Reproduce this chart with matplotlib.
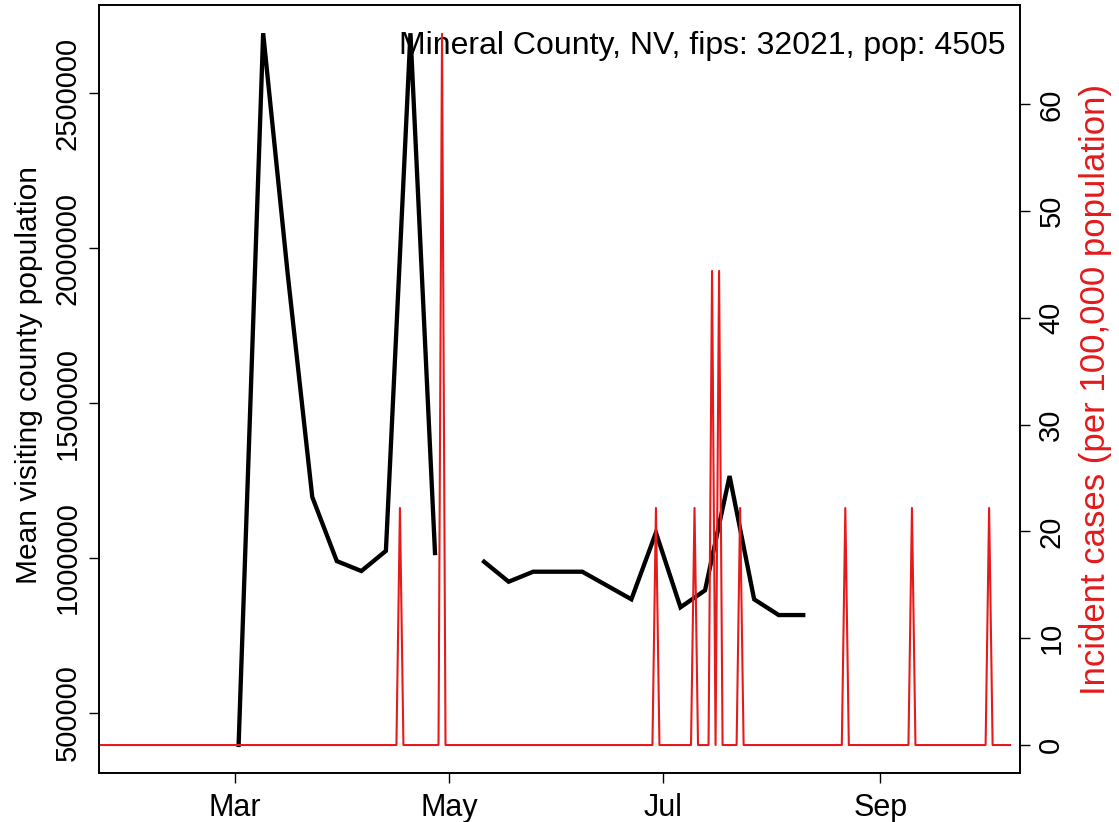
import datetime as dt

import matplotlib
matplotlib.use("Agg")
import matplotlib.pyplot as plt
import matplotlib.dates as mdates
import numpy as np

plt.rcParams["font.family"] = ["Liberation Sans", "DejaVu Sans"]

# weekly mean visiting-county population (NaN = missing week)
visit_dates = ["2020-03-02", "2020-03-09", "2020-03-16", "2020-03-23", "2020-03-30",
               "2020-04-06", "2020-04-13", "2020-04-20", "2020-04-27", "2020-05-04",
               "2020-05-11", "2020-05-18", "2020-05-25", "2020-06-01", "2020-06-08",
               "2020-06-15", "2020-06-22", "2020-06-29", "2020-07-06", "2020-07-13",
               "2020-07-20", "2020-07-27", "2020-08-03", "2020-08-10"]
visit_pop = [397000, 2693000, 1916000, 1197000, 990000,
             958000, 1023000, 2693000, 1016000, np.nan,
             988000, 923500, 955800, 955800, 955800,
             911300, 866800, 1082000, 841000, 895800,
             1264500, 866800, 816000, 816000]

# daily incident cases per 100,000 (all other days are zero)
case_start = "2020-01-21"
case_end = "2020-10-08"
spike_dates = ["2020-04-17", "2020-04-29", "2020-06-29", "2020-07-10", "2020-07-15",
               "2020-07-17", "2020-07-23", "2020-08-22", "2020-09-10", "2020-10-02"]
spike_rates = [22.2, 66.6, 22.2, 22.2, 44.4, 44.4, 22.2, 22.2, 22.2, 22.2]

title = "Mineral County, NV, fips: 32021, pop: 4505"
red = "#e41a1c"


def main():
    fig = plt.figure(figsize=(11.19, 8.22), dpi=100)
    ax = fig.add_axes([0.0885, 0.0596, 0.823, 0.9343])

    vx = np.array(visit_dates, dtype="datetime64[D]")
    ax.plot(vx, visit_pop, color="black", lw=3.1, solid_joinstyle="miter")
    ax.set_ylim(306452, 2783870)
    ax.set_yticks([500000, 1000000, 1500000, 2000000, 2500000])
    ax.set_yticklabels(["500000", "1000000", "1500000", "2000000", "2500000"],
                       rotation=90, va="center")
    ax.set_ylabel("Mean visiting county population", fontsize=21.5)
    ax.yaxis.set_label_coords(-0.061, 0.518)

    base = mdates.date2num(dt.datetime(2020, 3, 1))
    ax.set_xlim(base - 38.8, base + 223.8)
    ax.set_xticks([mdates.date2num(dt.datetime(2020, m, 1)) for m in (3, 5, 7, 9)])
    ax.xaxis.set_major_formatter(mdates.DateFormatter("%b"))

    ax.tick_params(labelsize=21, length=7.5, width=1.0, pad=5)
    ax.tick_params(axis="x", labelsize=22, pad=7)

    ax2 = ax.twinx()
    days = np.arange(np.datetime64(case_start), np.datetime64(case_end) + 1)
    rates = np.zeros(len(days))
    for d, r in zip(spike_dates, spike_rates):
        rates[days == np.datetime64(d)] = r
    ax2.plot(days, rates, color=red, lw=1.5)
    ax2.set_ylim(-2.62, 69.3)
    ax2.set_yticks([0, 10, 20, 30, 40, 50, 60])
    ax2.set_yticklabels(["0", "10", "20", "30", "40", "50", "60"],
                        rotation=90, va="center")
    ax2.tick_params(labelsize=21, length=7.5, width=1.0, pad=5)
    ax2.set_ylabel("Incident cases (per 100,000 population)", color=red, fontsize=25)
    ax2.yaxis.set_label_coords(1.0646, 0.5)
    ax2.set_xlim(ax.get_xlim())

    for a in (ax, ax2):
        for s in a.spines.values():
            s.set_linewidth(1.2)

    ax.text(0.984, 0.966, title, transform=ax.transAxes, ha="right", va="top",
            fontsize=23, zorder=5)

    fig.savefig("out.png", dpi=100)


if __name__ == "__main__":
    main()
